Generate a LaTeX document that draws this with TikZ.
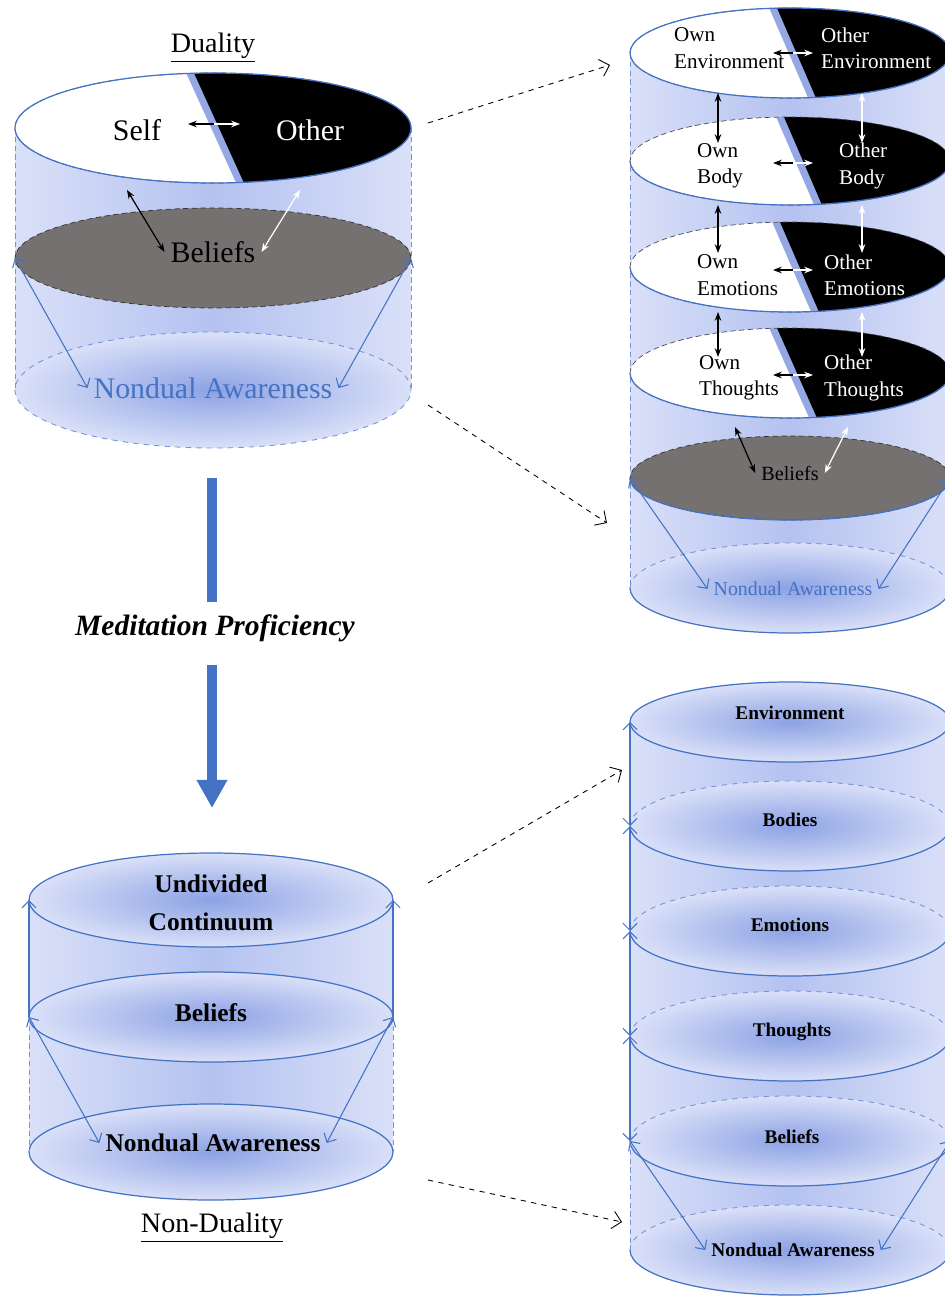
\documentclass[tikz,border=0pt]{standalone}
\usepackage{fontspec}
\setmainfont{Liberation Serif}
\usetikzlibrary{arrows.meta}

\definecolor{rimblue}{RGB}{68,114,196}
\definecolor{dashblue}{RGB}{120,148,214}
\definecolor{bodyblue}{RGB}{180,194,240}
\definecolor{edgeblue}{RGB}{218,224,248}
\definecolor{coreblue}{RGB}{140,162,228}
\definecolor{bandblue}{RGB}{150,168,228}
\definecolor{beliefgray}{RGB}{118,113,113}

% disc cut in a white and a black half
\newcommand{\splitdisc}[6]{%
  \begin{scope}
    \clip (#1,#2) ellipse [x radius=#3, y radius=#4];
    \fill[bandblue] (#1-#3,#2+#4) rectangle (#1+#3,#2-#4);
    \fill[white] (#1-#3,#2+#4) -- (#5-4,#2+#4) -- (#6-4,#2-#4) -- (#1-#3,#2-#4) -- cycle;
    \fill[black] (#5+4,#2+#4) -- (#1+#3,#2+#4) -- (#1+#3,#2-#4) -- (#6+4,#2-#4) -- cycle;
  \end{scope}
  \draw[darkdash] (#1,#2) ellipse [x radius=#3, y radius=#4];}
\newcommand{\lowrim}[4]{%
  \draw[rimline] (#1-#3,#2) arc [start angle=180, end angle=360, x radius=#3, y radius=#4];}
\newcommand{\rim}[4]{%
  \draw[rimdash] (#1-#3,#2) arc [start angle=180, end angle=0, x radius=#3, y radius=#4];
  \lowrim{#1}{#2}{#3}{#4}}
\newcommand{\blueglow}[4]{%
  \shade[inner color=coreblue, outer color=edgeblue] (#1,#2) ellipse [x radius=#3, y radius=#4];}

\begin{document}
\begin{tikzpicture}[x=0.02cm, y=0.02cm,
  rimline/.style={draw=rimblue, line width=0.7pt},
  rimdash/.style={draw=dashblue, dashed, line width=0.5pt},
  darkdash/.style={draw=black!70, densely dashed, line width=0.4pt},
  sidedash/.style={draw=dashblue, densely dashed, line width=0.4pt},
  bodyshade/.style={left color=edgeblue, right color=edgeblue, middle color=bodyblue},
  beliefdisc/.style={fill=beliefgray, draw=black!80, densely dashed, line width=0.4pt},
  bluearr/.style={draw=rimblue, line width=0.6pt, {Straight Barb[length=4pt]}-{Straight Barb[length=4pt]}},
  bluetip/.style={draw=rimblue, line width=0.6pt, -{Straight Barb[length=4pt]}},
  blkarr/.style={black, line width=0.7pt, {Stealth[length=5pt]}-{Stealth[length=5pt]}},
  whtarr/.style={white, line width=0.7pt, {Stealth[length=5pt]}-{Stealth[length=5pt]}},
  blkhalf/.style={black, line width=0.7pt, -{Stealth[length=5pt]}},
  whthalf/.style={white, line width=0.7pt, -{Stealth[length=5pt]}},
  linkarr/.style={black, dashed, line width=0.5pt, -{Straight Barb[length=5pt]}},
  bigarrow/.style={draw=rimblue, line width=5.7pt},
  titlefont/.style={font=\fontsize{16}{19}\selectfont},
  bigfont/.style={font=\fontsize{17}{20}\selectfont},
  boldfont/.style={font=\fontsize{14.5}{21.5}\selectfont\bfseries, align=center},
  smallfont/.style={font=\fontsize{12}{15}\selectfont, align=left, anchor=west},
  layerfont/.style={font=\fontsize{11}{13}\selectfont\bfseries}]
\useasboundingbox (0,0) rectangle (945,-1297);
\clip (0,0) rectangle (945,-1297);

% duality
\shade[bodyshade] (15,-128) rectangle (411,-390);
\blueglow{213}{-390}{198}{58}
\draw[rimdash] (213,-390) ellipse [x radius=198, y radius=58];
\draw[sidedash] (15,-128) -- (15,-390);
\draw[sidedash] (411,-128) -- (411,-390);
\filldraw[beliefdisc] (213,-258) ellipse [x radius=198, y radius=50];
\splitdisc{213}{-128}{198}{55}{190}{240}
\draw[rimline] (213,-128) ellipse [x radius=198, y radius=55];

\node[titlefont] (duality) at (213,-48) {\underline{Duality}};
\node[bigfont] (self) at (137,-130) {Self};
\node[bigfont, text=white] (other) at (310,-130) {Other};
\node[bigfont] (beliefs) at (213,-252) {Beliefs};
\node[bigfont, text=rimblue] (aware) at (213,-388) {Nondual Awareness};
\coordinate (selfend) at (188,-124);
\coordinate (otherend) at (240,-124);
\coordinate (somid) at (214,-124);
\draw[blkhalf] (somid) -- (selfend);
\draw[whthalf] (somid) -- (otherend);
\coordinate (selfrim) at (127,-190);
\coordinate (otherrim) at (300,-190);
\draw[blkarr] (selfrim) -- (beliefs.west);
\draw[whtarr] (otherrim) -- (beliefs.east);
\coordinate (belleft) at (15,-258);
\coordinate (belright) at (411,-258);
\draw[bluearr] (belleft) -- (aware.west);
\draw[bluearr] (belright) -- (aware.east);

% meditation arrow
\node[font=\fontsize{16.8}{19}\selectfont\bfseries\itshape] (medprof) at (215,-628) {Meditation Proficiency};
\coordinate (arrtop) at (212,-478);
\coordinate (arrmid1) at (212,-602);
\coordinate (arrmid2) at (212,-665);
\coordinate (arrtip) at (212,-808);
\draw[bigarrow] (arrtop) -- (arrmid1);
\draw[bigarrow, -{Triangle[width=16.5pt, length=16pt]}] (arrmid2) -- (arrtip);

% non-duality
\shade[bodyshade] (29,-900) rectangle (393,-1152);
\blueglow{211}{-1152}{182}{48}
\draw[rimline] (211,-1152) ellipse [x radius=182, y radius=48];
\blueglow{211}{-1017}{182}{45}
\draw[rimline] (211,-1017) ellipse [x radius=182, y radius=45];
\blueglow{211}{-900}{182}{47}
\draw[rimline] (211,-900) ellipse [x radius=182, y radius=47];

\node[boldfont] (undiv) at (211,-903) {Undivided\\Continuum};
\node[boldfont] (beliefs3) at (211,-1013) {Beliefs};
\node[boldfont] (aware3) at (213,-1143) {Nondual Awareness};
\node[titlefont] (nonduality) at (212,-1228) {\underline{Non-Duality}};
\coordinate (ndleft) at (29,-1017);
\coordinate (ndright) at (393,-1017);
\coordinate (ndlefttop) at (29,-900);
\coordinate (ndrighttop) at (393,-900);
\coordinate (ndleftbot) at (29,-1152);
\coordinate (ndrightbot) at (393,-1152);
\draw[bluetip] (ndleft) -- (ndlefttop);
\draw[bluetip] (ndright) -- (ndrighttop);
\draw[sidedash] (ndleft) -- (ndleftbot);
\draw[sidedash] (ndright) -- (ndrightbot);
\draw[bluearr] (ndleft) -- (aware3.west);
\draw[bluearr] (ndright) -- (aware3.east);

% duality in detail
\shade[bodyshade] (630,-53) rectangle (950,-588);
\blueglow{790}{-588}{160}{45}
\rim{790}{-588}{160}{45}
\draw[sidedash] (630,-53) -- (630,-588);
\filldraw[beliefdisc] (790,-478) ellipse [x radius=160, y radius=42];
\lowrim{790}{-478}{160}{42}
\splitdisc{790}{-373}{160}{45}{773}{813}
\lowrim{790}{-373}{160}{45}
\splitdisc{790}{-267}{160}{45}{776}{815}
\lowrim{790}{-267}{160}{45}
\splitdisc{790}{-161}{160}{44}{780}{818}
\lowrim{790}{-161}{160}{44}
\splitdisc{790}{-53}{160}{45}{773}{812}
\draw[rimline] (790,-53) ellipse [x radius=160, y radius=45];

\node[smallfont] (ownenv) at (668,-48) {Own\\Environment};
\node[smallfont, text=white] (othenv) at (815,-48) {Other\\Environment};
\node[smallfont] (ownbody) at (691,-166) {Own\\Body};
\node[smallfont, text=white] (othbody) at (833,-166) {Other\\Body};
\node[smallfont] (ownemo) at (691,-275) {Own\\Emotions};
\node[smallfont, text=white] (othemo) at (818,-275) {Other\\Emotions};
\node[smallfont] (ownthought) at (693,-378) {Own\\Thoughts};
\node[smallfont, text=white] (oththought) at (818,-378) {Other\\Thoughts};
\node[font=\fontsize{11.5}{14}\selectfont] (beliefs2) at (790,-473) {Beliefs};
\node[font=\fontsize{11.3}{14}\selectfont, text=rimblue] (aware2) at (793,-589) {Nondual Awareness};

\foreach \y/\n in {53/1,163/2,270/3,375/4} {
  \coordinate (ownside\n) at (773,-\y);
  \coordinate (othside\n) at (813,-\y);
  \coordinate (midside\n) at (793,-\y);
  \draw[blkhalf] (midside\n) -- (ownside\n);
  \draw[whthalf] (midside\n) -- (othside\n);
}
\foreach \a/\b/\n in {93/143/1,205/253/2,312/357/3} {
  \coordinate (ownup\n) at (718,-\a);
  \coordinate (owndown\n) at (718,-\b);
  \coordinate (othup\n) at (862,-\a);
  \coordinate (othdown\n) at (862,-\b);
  \draw[blkarr] (ownup\n) -- (owndown\n);
  \draw[whtarr] (othup\n) -- (othdown\n);
}
\coordinate (ownrim) at (735,-427);
\coordinate (othrim) at (848,-427);
\draw[blkarr] (ownrim) -- (beliefs2.west);
\draw[whtarr] (othrim) -- (beliefs2.east);
\coordinate (bel2left) at (630,-478);
\coordinate (bel2right) at (950,-478);
\draw[bluearr] (bel2left) -- (aware2.west);
\draw[bluearr] (bel2right) -- (aware2.east);

% non-duality in detail
\shade[bodyshade] (630,-722) rectangle (950,-1250);
\foreach \y in {-1250,-1141,-1036,-931,-826} {
  \blueglow{790}{\y}{160}{45}
  \rim{790}{\y}{160}{45}
}
\blueglow{790}{-722}{160}{40}
\draw[rimline] (790,-722) ellipse [x radius=160, y radius=40];

\node[layerfont] (envlayer) at (790,-713) {Environment};
\node[layerfont] (bodylayer) at (790,-820) {Bodies};
\node[layerfont] (emolayer) at (790,-925) {Emotions};
\node[layerfont] (thoughtlayer) at (792,-1032) {Thoughts};
\node[layerfont] (belieflayer) at (792,-1137) {Beliefs};
\node[layerfont] (aware4) at (793,-1250) {Nondual Awareness};
\foreach \y/\n in {722/0,826/1,931/2,1036/3,1141/4,1250/5} {
  \coordinate (edge\n) at (630,-\y);
}
\foreach \a/\b in {4/3,3/2,2/1} {
  \draw[bluearr] (edge\a) -- (edge\b);
}
\draw[bluearr] (edge1) -- (edge0);
\draw[sidedash] (edge4) -- (edge5);
\coordinate (edgeright) at (950,-1141);
\draw[bluearr] (edge4) -- (aware4.west);
\draw[bluearr] (edgeright) -- (aware4.east);

% links to the detailed views
\coordinate (dualtop) at (428,-123);
\coordinate (dualbot) at (428,-405);
\coordinate (detailtop) at (610,-65);
\coordinate (detailbot) at (607,-523);
\coordinate (ndualtop) at (428,-883);
\coordinate (ndualbot) at (428,-1180);
\coordinate (nddetailtop) at (622,-770);
\coordinate (nddetailbot) at (622,-1222);
\draw[linkarr] (dualtop) -- (detailtop);
\draw[linkarr] (dualbot) -- (detailbot);
\draw[linkarr] (ndualtop) -- (nddetailtop);
\draw[linkarr] (ndualbot) -- (nddetailbot);
\end{tikzpicture}
\end{document}
